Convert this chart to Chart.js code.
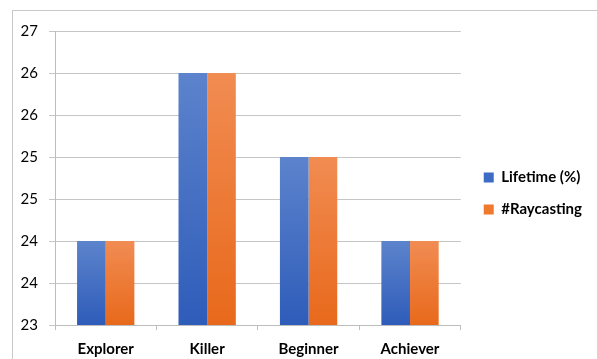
<!DOCTYPE html>
<html>
<head>
<meta charset="utf-8">
<script src="https://cdn.jsdelivr.net/npm/chart.js@4/dist/chart.umd.min.js"></script>
<style>
    html, body { margin: 0; padding: 0; background: #fff; }
    #frame {
        position: absolute; left: 12px; top: 10px;
        width: 584px; height: 349px;
        border-left: 1px solid #c9c9c9; border-top: 1px solid #c9c9c9;
    }
    #chart { display: block; }
</style>
</head>
<body>
<div id="frame"><canvas id="chart" width="584" height="349"></canvas></div>
<script>
const categories = ["Explorer", "Killer", "Beginner", "Achiever"];
const lifetime = [24, 26, 25, 24];
const raycasting = [24, 26, 25, 24];
const seriesNames = ["Lifetime (%)", "#Raycasting"];
const yMin = 23;
const yMax = 26.5;
const yStep = 0.5;

function barGradient(top, bottom) {
    return function (context) {
        const chart = context.chart;
        const y = chart.scales && chart.scales.y;
        if (!chart.chartArea || !y || context.raw === undefined) return bottom;
        const y0 = y.getPixelForValue(context.raw);
        const y1 = y.getPixelForValue(yMin);
        const g = chart.ctx.createLinearGradient(0, y0, 0, y1);
        g.addColorStop(0, top);
        g.addColorStop(1, bottom);
        return g;
    };
}

// nudge the legend a bit to the right of the plot, like the original
const legendShift = {
    id: 'legendShift',
    afterLayout(chart) {
        if (chart.legend) {
            chart.legend.left += 6;
            chart.legend.right += 6;
        }
    }
};

const ctx = document.getElementById("chart").getContext("2d");
new Chart(ctx, {
    type: 'bar',
    data: {
        labels: categories,
        datasets: [{
            label: seriesNames[0],
            data: lifetime,
            backgroundColor: barGradient('#5c83cc', '#2e5cb9'),
            borderWidth: 0
        }, {
            label: seriesNames[1],
            data: raycasting,
            backgroundColor: barGradient('#f18c52', '#e8691b'),
            borderWidth: 0
        }]
    },
    options: {
        responsive: false,
        animation: false,
        datasets: {
            bar: { categoryPercentage: 0.565, barPercentage: 1 }
        },
        layout: { padding: { top: 16, right: 11, bottom: 0, left: 0 } },
        plugins: {
            tooltip: { enabled: false },
            legend: {
                position: 'right',
                labels: {
                    boxWidth: 10,
                    boxHeight: 10,
                    padding: 17,
                    color: '#000',
                    font: { family: 'Lato', size: 15, weight: 'bold' },
                    generateLabels: function (chart) {
                        const solid = ['#3d6cc4', '#ef7a2e'];
                        return chart.data.datasets.map((d, i) => ({
                            text: d.label,
                            fillStyle: solid[i],
                            strokeStyle: solid[i],
                            lineWidth: 0,
                            datasetIndex: i,
                            fontColor: '#000'
                        }));
                    }
                }
            }
        },
        scales: {
            x: {
                afterFit: function (scale) { scale.height = 35; },
                grid: {
                    drawOnChartArea: false,
                    drawTicks: true,
                    tickLength: 5,
                    color: '#bdbdbd'
                },
                border: { color: '#bdbdbd' },
                ticks: {
                    color: '#000',
                    padding: 10,
                    font: { family: 'Lato', size: 15, weight: 'bold' }
                }
            },
            y: {
                min: yMin,
                max: yMax,
                afterFit: function (scale) { scale.width = 42; },
                grid: {
                    color: '#c6c6c6',
                    tickLength: 6
                },
                border: { color: '#bdbdbd' },
                ticks: {
                    stepSize: yStep,
                    color: '#000',
                    padding: 11,
                    font: { family: 'Lato', size: 15 },
                    callback: function (v) { return Math.round(v); }
                }
            }
        }
    },
    plugins: [legendShift]
});
</script>
</body>
</html>
